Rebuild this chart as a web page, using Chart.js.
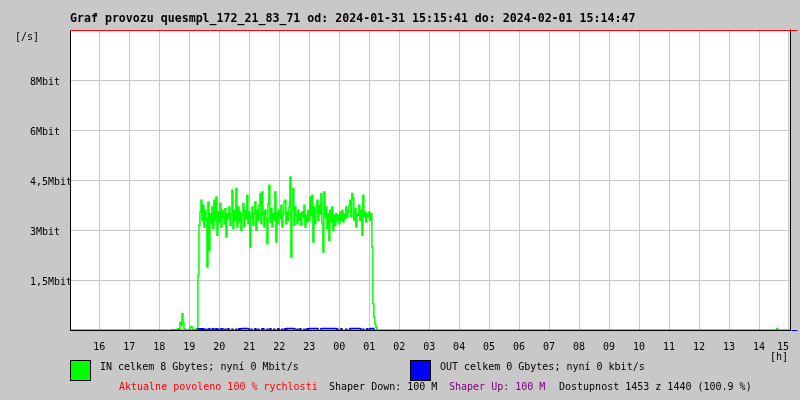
<!DOCTYPE html>
<html>
<head>
<meta charset="utf-8">
<title>Graf provozu</title>
<script src="https://cdn.jsdelivr.net/npm/chart.js@4"></script>
<style>
  body { margin: 0; background: #c8c8c8; }
  canvas { display: block; }
</style>
</head>
<body>
<canvas id="trafficChart" width="800" height="400"></canvas>
<script>
// Texts
const chartTitle = 'Graf provozu quesmpl_172_21_83_71 od: 2024-01-31 15:15:41 do: 2024-02-01 15:14:47';
const yUnitLabel = '[/s]';
const xUnitLabel = '[h]';
const inLegend = 'IN celkem 8 Gbytes; nyní 0 Mbit/s';
const outLegend = 'OUT celkem 0 Gbytes; nyní 0 kbit/s';
const statusTexts = ['Aktualne povoleno 100 % rychlosti', 'Shaper Down: 100 M', 'Shaper Up: 100 M', 'Dostupnost 1453 z 1440 (100.9 %)'];
const statusColors = ['#ff0000', '#000000', '#800080', '#000000'];

// X axis in hours of day (continues past midnight), one sample = 2 minutes
const hourStart = 15.023;
const samplesPerHour = 30;
const sampleCount = 720;
const hourTicks = [16, 17, 18, 19, 20, 21, 22, 23, 24, 25, 26, 27, 28, 29, 30, 31, 32, 33, 34, 35, 36, 37, 38, 39];

// Y axis in Mbit/s, labels as printed beside the grid lines
const yMax = 9;
const yTickValues = [1.5, 3, 4.5, 6, 7.5];
const yTickLabels = ['1,5Mbit', '3Mbit', '4,5Mbit', '6Mbit', '8Mbit'];

// IN traffic (Mbit/s), one value per sample, starting at sample 100 (18:38)
const inFirstSample = 100;
const inValues = [
  0, 0, 0.02, 0.02, 0, 0.02, 0.02, 0.03, 0.05, 0.03,
  0.25, 0.15, 0.5, 0.22, 0.05, 0, 0, 0, 0, 0.02,
  0.1, 0.12, 0.08, 0, 0, 0.02, 0.05, 0.03,
  1.65, 3.15, 3.55, 3.9, 3.3, 3.75, 3.1, 3.6, 3.35, 1.9,
  3.85, 2.4, 3.5, 3.2, 3.7, 3.05, 3.9, 3.3, 4.0, 2.85,
  3.55, 3.25, 3.8, 3.1, 3.6, 3.4, 3.2, 3.65, 2.8, 3.5,
  3.35, 3.7, 3.15, 3.5, 4.2, 3.05, 3.6, 3.3, 4.25, 3.1,
  3.7, 3.25, 3.55, 3.0, 3.45, 3.8, 3.1, 3.6, 3.35, 4.05,
  3.2, 3.55, 2.5, 3.4, 3.7, 3.15, 3.5, 3.85, 3.0, 3.6,
  3.3, 3.75, 4.1, 3.2, 4.15, 3.45, 3.1, 3.6, 3.35, 2.6,
  3.8, 4.35, 3.25, 3.65, 3.1, 3.5, 3.3, 4.15, 2.65, 3.55,
  3.2, 3.6, 3.35, 3.75, 3.1, 3.5, 3.85, 3.9, 3.2, 3.55,
  3.3, 3.7, 4.6, 2.2, 3.6, 4.25, 3.15, 3.7, 3.45, 3.2,
  3.6, 3.3, 3.5, 3.15, 3.55, 3.4, 3.75, 3.1, 3.45, 3.25,
  3.6, 3.3, 4.0, 3.45, 4.05, 2.65, 3.7, 3.2, 3.55, 3.9,
  3.3, 3.75, 3.5, 4.1, 3.2, 2.35, 4.15, 3.4, 3.7, 3.05,
  3.5, 2.7, 3.6, 3.25, 3.7, 3.0, 3.45, 3.15, 3.5, 3.3,
  3.45, 3.2, 3.55, 3.3, 3.6, 3.25, 3.5, 3.35, 3.7, 3.4,
  3.55, 3.75, 3.9, 3.4, 4.1, 3.95, 3.3, 3.65, 3.1, 3.5,
  3.45, 3.75, 3.3, 3.6, 2.85, 4.05, 3.4, 3.55, 3.25, 3.5,
  3.4, 3.55, 3.3, 3.5, 2.5, 0.8, 0.4, 0.2, 0.1, 0
];
// small blip near 14:45
const inLateFirstSample = 706;
const inLateValues = [0, 0.06, 0];

// OUT traffic (Mbit/s), starting at sample 126
const outFirstSample = 126;
const outValues = [
  0, 0, 0.05, 0.05, 0.04, 0.05, 0.03, 0.05, 0, 0,
  0.04, 0, 0, 0.05, 0, 0, 0.04, 0.05, 0, 0,
  0.05, 0, 0.04, 0, 0, 0.05, 0.05, 0, 0, 0.04,
  0, 0, 0.05, 0, 0, 0, 0.04, 0, 0, 0,
  0.04, 0, 0, 0.05, 0, 0.05, 0.06, 0.06, 0.05, 0.06,
  0.05, 0.06, 0.05, 0, 0, 0.04, 0, 0, 0, 0.05,
  0, 0, 0.04, 0, 0, 0, 0.05, 0.05, 0, 0,
  0, 0.04, 0, 0, 0.05, 0, 0, 0, 0.04, 0,
  0, 0, 0.05, 0, 0, 0, 0.04, 0, 0, 0.05,
  0, 0.06, 0.06, 0.05, 0.06, 0.06, 0.05, 0.06, 0.05, 0,
  0, 0.04, 0, 0, 0.05, 0, 0, 0, 0.04, 0,
  0, 0.05, 0, 0.05, 0.06, 0.06, 0.05, 0.06, 0.05, 0.06,
  0.05, 0.06, 0, 0, 0, 0.05, 0.06, 0.06, 0.05, 0.06,
  0.06, 0.05, 0.06, 0.05, 0.06, 0.06, 0.05, 0.06, 0.05, 0.06,
  0.05, 0.04, 0, 0, 0, 0.05, 0, 0, 0, 0,
  0.04, 0, 0, 0, 0.05, 0.06, 0.05, 0.06, 0.06, 0.05,
  0.06, 0.05, 0.06, 0.06, 0.05, 0, 0, 0.04, 0, 0,
  0, 0.05, 0, 0, 0.05, 0.06, 0.05, 0.06, 0, 0
];

const hourEnd = hourStart + sampleCount / samplesPerHour;
const monoFont = '"DejaVu Sans Mono", "Liberation Mono", monospace';

function samplesToPoints(first, values) {
  return values.map((v, k) => ({ x: hourStart + (first + k) / samplesPerHour, y: v }));
}

const inPoints = [{ x: hourStart, y: 0 }]
  .concat(samplesToPoints(inFirstSample, inValues))
  .concat(samplesToPoints(inLateFirstSample, inLateValues))
  .concat([{ x: hourEnd, y: 0 }]);
const outPoints = [{ x: hourStart, y: 0 }]
  .concat(samplesToPoints(outFirstSample, outValues))
  .concat([{ x: hourEnd, y: 0 }]);

// gray page + white plot area
const backgroundPlugin = {
  id: 'background',
  beforeDraw(chart) {
    const { ctx, chartArea } = chart;
    ctx.save();
    ctx.fillStyle = '#c8c8c8';
    ctx.fillRect(0, 0, chart.width, chart.height);
    ctx.fillStyle = '#ffffff';
    ctx.fillRect(chartArea.left, chartArea.top, chartArea.right - chartArea.left, chartArea.bottom - chartArea.top);
    ctx.restore();
  }
};

// plot frame drawn over the data
const framePlugin = {
  id: 'frame',
  afterDatasetsDraw(chart) {
    const { ctx, chartArea } = chart;
    const l = Math.round(chartArea.left) + 0.5;
    const r = Math.round(chartArea.right) + 0.5;
    const t = Math.round(chartArea.top) + 0.5;
    const b = Math.floor(chartArea.bottom) + 0.5;
    ctx.save();
    ctx.lineWidth = 1;
    ctx.strokeStyle = '#000000';
    ctx.beginPath();
    ctx.moveTo(l, t);
    ctx.lineTo(l, b);
    ctx.lineTo(r, b);
    ctx.lineTo(r, t - 1);
    ctx.stroke();
    ctx.strokeStyle = '#ff0000';
    ctx.beginPath();
    ctx.moveTo(l, t);
    ctx.lineTo(r + 7, t);
    ctx.stroke();
    ctx.strokeStyle = '#0000ff';
    ctx.beginPath();
    ctx.moveTo(r + 1, b);
    ctx.lineTo(r + 7, b);
    ctx.stroke();
    ctx.restore();
  }
};

// title, units, legend and status line
const textPlugin = {
  id: 'texts',
  afterDraw(chart) {
    const { ctx, chartArea } = chart;
    ctx.save();
    ctx.textBaseline = 'middle';
    ctx.textAlign = 'left';
    ctx.fillStyle = '#000000';
    ctx.font = 'bold 11.6px ' + monoFont;
    ctx.fillText(chartTitle, chartArea.left, 19);

    ctx.font = '10px ' + monoFont;
    ctx.fillText(yUnitLabel, 15, 37.5);
    ctx.fillText(xUnitLabel, 770, 357);

    const legend = [
      { x: 70, color: '#00ff00', text: inLegend },
      { x: 410, color: '#0000ff', text: outLegend }
    ];
    legend.forEach(item => {
      ctx.fillStyle = item.color;
      ctx.fillRect(item.x, 360, 20, 20);
      ctx.strokeStyle = '#000000';
      ctx.lineWidth = 1;
      ctx.strokeRect(item.x + 0.5, 360.5, 20, 20);
      ctx.fillStyle = '#000000';
      ctx.fillText(item.text, item.x + 30, 367.5);
    });

    const statusX = [119, 329, 449, 559];
    statusTexts.forEach((s, i) => {
      ctx.fillStyle = statusColors[i];
      ctx.fillText(s, statusX[i], 387.5);
    });
    ctx.restore();
  }
};

const ctx = document.getElementById('trafficChart').getContext('2d');
const trafficChart = new Chart(ctx, {
  type: 'line',
  data: {
    datasets: [
      {
        label: 'OUT',
        data: outPoints,
        borderColor: '#0000ff',
        borderWidth: 1.5,
        pointRadius: 0,
        stepped: true,
        fill: false,
        order: 0
      },
      {
        label: 'IN',
        data: inPoints,
        borderColor: '#00ff00',
        borderWidth: 1.5,
        pointRadius: 0,
        stepped: true,
        fill: false,
        order: 1
      }
    ]
  },
  options: {
    responsive: false,
    animation: false,
    layout: { padding: { left: 30, right: 10, top: 30, bottom: 0 } },
    scales: {
      x: {
        type: 'linear',
        min: hourStart,
        max: hourEnd,
        afterBuildTicks: scale => {
          scale.ticks = [hourStart].concat(hourTicks).map(v => ({ value: v }));
        },
        afterFit: scale => { scale.height = 69.5; },
        ticks: {
          autoSkip: false,
          maxRotation: 0,
          align: 'inner',
          padding: 11,
          color: '#000000',
          font: { family: monoFont, size: 10 },
          callback: v => hourTicks.includes(v) ? String(v % 24).padStart(2, '0') : ''
        },
        grid: { color: '#c8c8c8', drawTicks: false },
        border: { display: false }
      },
      y: {
        min: 0,
        max: yMax,
        afterBuildTicks: scale => {
          scale.ticks = [0].concat(yTickValues).concat([yMax]).map(v => ({ value: v }));
        },
        afterFit: scale => { scale.width = 40; },
        ticks: {
          crossAlign: 'far',
          padding: 0,
          labelOffset: 2,
          color: '#000000',
          font: { family: monoFont, size: 10 },
          callback: v => {
            const k = yTickValues.indexOf(v);
            return k < 0 ? '' : yTickLabels[k];
          }
        },
        grid: { color: '#c8c8c8', drawTicks: false },
        border: { display: false }
      }
    },
    plugins: {
      legend: { display: false },
      tooltip: { enabled: false }
    }
  },
  plugins: [backgroundPlugin, framePlugin, textPlugin]
});
</script>
</body>
</html>
